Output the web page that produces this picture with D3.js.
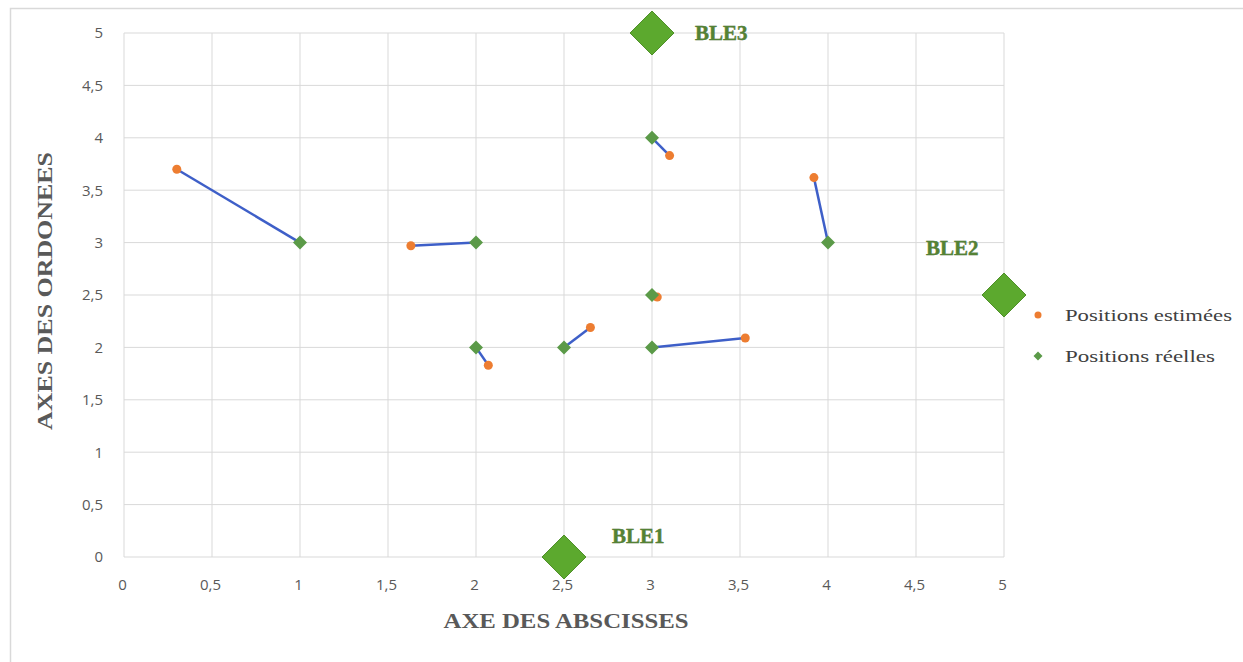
<!DOCTYPE html>
<html><head><meta charset="utf-8">
<script src="https://cdn.jsdelivr.net/npm/d3@7"></script>
<style>body{margin:0;background:#fff}</style>
</head><body>
<script>
const xTicks = [0,0.5,1,1.5,2,2.5,3,3.5,4,4.5,5];
const yTicks = [0,0.5,1,1.5,2,2.5,3,3.5,4,4.5,5];
const realX = [1,2,3,4,3,2,2.5,3];
const realY = [3,3,4,3,2.5,2,2,2];
const estX = [0.3,1.63,3.1,3.92,3.03,2.07,2.65,3.53];
const estY = [3.7,2.97,3.83,3.62,2.48,1.83,2.19,2.09];
const bleNames = ["BLE1","BLE2","BLE3"];
const bleX = [2.5,5,3];
const bleY = [0,2.5,5];
const legendLabels = ["Positions estimées","Positions réelles"];

const W=1243,H=662;
const svg=d3.select("body").append("svg").attr("width",W).attr("height",H);
svg.append("rect").attr("x",10.5).attr("y",8.5).attr("width",W).attr("height",H).attr("fill","#fff").attr("stroke","#d9d9d9").attr("stroke-width",1.5);

const x=d3.scaleLinear().domain([0,5]).range([124,1004]);
const y=d3.scaleLinear().domain([0,5]).range([557,33]);
const fmt=d=>String(d).replace(".",",");

const g=svg.append("g");
g.selectAll(".vg").data(xTicks).join("line").attr("x1",d=>x(d)).attr("x2",d=>x(d)).attr("y1",y(0)).attr("y2",y(5)).attr("stroke","#d9d9d9").attr("stroke-width",1);
g.selectAll(".hg").data(yTicks).join("line").attr("y1",d=>y(d)).attr("y2",d=>y(d)).attr("x1",x(0)).attr("x2",x(5)).attr("stroke","#d9d9d9").attr("stroke-width",1);

const xa=svg.append("g").attr("transform",`translate(0,${y(0)+19})`).call(d3.axisBottom(x).tickValues(xTicks).tickFormat(fmt).tickSize(0));
xa.select(".domain").remove();
xa.selectAll("text").attr("font-family","Open Sans, sans-serif").attr("font-size",15).attr("fill","#595959").attr("dx",-2);
const ya=svg.append("g").attr("transform",`translate(${x(0)-18},0)`).call(d3.axisLeft(y).tickValues(yTicks).tickFormat(fmt).tickSize(0));
ya.select(".domain").remove();
ya.selectAll("text").attr("font-family","Open Sans, sans-serif").attr("font-size",15).attr("fill","#595959");

svg.append("text").attr("x",566).attr("y",628).attr("text-anchor","middle").attr("font-family","Liberation Serif, serif").attr("font-weight","bold").attr("font-size",21).attr("fill","#595959").attr("textLength",245).attr("lengthAdjust","spacingAndGlyphs").text("AXE DES ABSCISSES");
svg.append("text").attr("transform","translate(52,291) rotate(-90)").attr("text-anchor","middle").attr("font-family","Liberation Serif, serif").attr("font-weight","bold").attr("font-size",21).attr("fill","#595959").attr("textLength",278).attr("lengthAdjust","spacingAndGlyphs").text("AXES DES ORDONEES");

// connecting lines
svg.selectAll(".lk").data(realX.map((d,i)=>i)).join("line")
 .attr("x1",i=>x(realX[i])).attr("y1",i=>y(realY[i])).attr("x2",i=>x(estX[i])).attr("y2",i=>y(estY[i]))
 .attr("stroke","#3e5fc8").attr("stroke-width",2.5);

const diamond=(s)=>`M0,${-s}L${s},0L0,${s}L${-s},0Z`;
svg.selectAll(".est").data(estX.map((d,i)=>i)).join("circle").attr("cx",i=>x(estX[i])).attr("cy",i=>y(estY[i])).attr("r",4.5).attr("fill","#ed7d31");
svg.selectAll(".real").data(realX.map((d,i)=>i)).join("path").attr("d",diamond(7)).attr("transform",i=>`translate(${x(realX[i])},${y(realY[i])})`).attr("fill","#5b9a48");

// BLE anchors
svg.selectAll(".ble").data(bleX.map((d,i)=>i)).join("path").attr("d",diamond(22)).attr("transform",i=>`translate(${x(bleX[i])},${y(bleY[i])})`).attr("fill","#5ca92e").attr("stroke","#4f8f2a").attr("stroke-width",1);
const labOff=[[48,-14],[-78,-40],[43,7]];
svg.selectAll(".bl").data(bleNames.map((d,i)=>i)).join("text")
 .attr("x",i=>x(bleX[i])+labOff[i][0]).attr("y",i=>y(bleY[i])+labOff[i][1])
 .attr("font-family","Liberation Serif, serif").attr("font-weight","bold").attr("font-size",21)
 .attr("fill","#548235").attr("text-anchor","start")
 .style("paint-order","stroke").attr("stroke","#3a5a22").attr("stroke-width",0.4)
 .text(i=>bleNames[i]);

// legend
const lg=svg.append("g");
lg.append("circle").attr("cx",1038).attr("cy",315).attr("r",3.5).attr("fill","#ed7d31");
lg.append("path").attr("d",diamond(4.5)).attr("transform","translate(1038,356)").attr("fill","#5b9a48");
const legLen=[167,150];
lg.selectAll("text").data(legendLabels).join("text").attr("x",1065).attr("y",(d,i)=>321+i*41)
 .attr("font-family","Liberation Serif, serif").attr("font-size",17).attr("fill","#404040")
 .attr("textLength",(d,i)=>legLen[i]).attr("lengthAdjust","spacingAndGlyphs").text(d=>d);
</script>
</body></html>
